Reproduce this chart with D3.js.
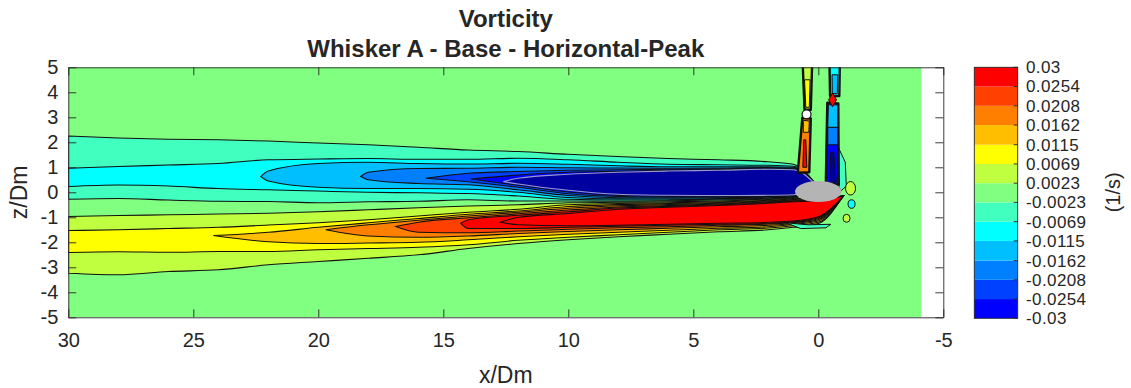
<!DOCTYPE html>
<html>
<head>
<meta charset="utf-8">
<script src="https://cdn.jsdelivr.net/npm/d3@7"></script>
<style>
body { margin: 0; background: #fff; }
svg text { font-family: "Liberation Sans", Arial, Helvetica, sans-serif; fill: #262626; }
</style>
</head>
<body>
<div id="canvas"></div>
<script>
"use strict"

/* Configuration: canvas and plot box */
let svgWidth = 1131;
let svgHeight = 388;
let plotLeft = 68.3;
let plotRight = 943.3;
let plotTop = 67.3;
let plotBottom = 317.3;

/* Stations along the wake (x/Dm) where the contour edges were read */
const xStations = [30, 28, 26, 24, 22, 20, 18, 16, 14, 12, 10, 8, 6, 4, 2, 1, 0, -1];
const fieldEndX = -4.12;

/* Negative vorticity (upper wake): region "below level" per level */
const negLevels = [-0.0023, -0.0069, -0.0115, -0.0162, -0.0208, -0.0254, -0.03];
const negTipX = [null, null, 22.3, 18.3, 15.7, 13.9, 12.6];
const negTipZ = [null, null, 0.63, 0.63, 0.56, 0.53, 0.43];
const negTop = [
    [2.25, 2.17, 2.12, 2.1, 2.05, 1.97, 1.9, 1.8, 1.69, 1.63, 1.52, 1.43, 1.35, 1.3, 1.22, 1.12, 0.2, null],
    [0.96, 1.03, 1.09, 1.15, 1.3, 1.33, 1.35, 1.32, 1.32, 1.36, 1.3, 1.2, 1.12, 1.1, 1.08, 1.04, 0.2, null],
    [null, null, null, null, 0.85, 1.15, 1.2, 1.15, 1.13, 1.16, 1.12, 1.06, 1.02, 1.02, 1.02, 1.0, 0.2, null],
    [null, null, null, null, null, null, 0.8, 0.95, 0.96, 1.0, 0.98, 0.97, 0.96, 0.97, 0.99, 0.97, 0.2, null],
    [null, null, null, null, null, null, null, null, 0.76, 0.83, 0.88, 0.9, 0.92, 0.94, 0.97, 0.94, 0.2, null],
    [null, null, null, null, null, null, null, null, null, 0.69, 0.8, 0.84, 0.88, 0.91, 0.945, 0.92, 0.2, null],
    [null, null, null, null, null, null, null, null, null, 0.56, 0.72, 0.8, 0.85, 0.88, 0.92, 0.9, 0.2, null]
];
const negBot = [
    [-0.28, -0.25, -0.31, -0.36, -0.37, -0.42, -0.38, -0.36, -0.3, -0.35, -0.35, -0.356, -0.34, -0.31, -0.27, -0.23, 0.2, null],
    [0.23, 0.29, 0.25, 0.15, 0.1, 0.05, 0.0, -0.02, -0.05, -0.15, -0.28, -0.31, -0.305, -0.28, -0.24, -0.21, 0.2, null],
    [null, null, null, null, 0.45, 0.2, 0.15, 0.15, 0.12, 0.0, -0.21, -0.264, -0.27, -0.25, -0.22, -0.186, 0.2, null],
    [null, null, null, null, null, null, 0.5, 0.35, 0.3, 0.1, -0.13, -0.22, -0.23, -0.22, -0.19, -0.165, 0.2, null],
    [null, null, null, null, null, null, null, null, 0.42, 0.2, -0.06, -0.17, -0.194, -0.19, -0.17, -0.14, 0.2, null],
    [null, null, null, null, null, null, null, null, null, 0.28, 0.01, -0.126, -0.157, -0.16, -0.145, -0.12, 0.2, null],
    [null, null, null, null, null, null, null, null, null, 0.33, 0.08, -0.08, -0.12, -0.13, -0.12, -0.1, 0.2, null]
];

/* Positive vorticity (lower wake): region "above level" per level */
const posLevels = [0.0023, 0.0069, 0.0115, 0.0162, 0.0208, 0.0254, 0.03];
const posTipX = [null, null, 24.2, 19.7, 16.9, 14.3, 12.7];
const posTipZ = [null, null, -1.73, -1.5, -1.37, -1.24, -1.2];
const posTop = [
    [-0.97, -0.93, -0.9, -0.87, -0.84, -0.78, -0.7, -0.62, -0.55, -0.5, -0.42, -0.4, -0.38, -0.35, -0.29, -0.25, -0.2, -0.15],
    [-1.53, -1.5, -1.45, -1.4, -1.31, -1.22, -1.1, -0.95, -0.8, -0.68, -0.5, -0.45, -0.415, -0.38, -0.32, -0.27, -0.22, -0.15],
    [null, null, null, null, -1.6, -1.4, -1.22, -1.05, -0.88, -0.75, -0.57, -0.494, -0.45, -0.41, -0.34, -0.29, -0.25, -0.15],
    [null, null, null, null, null, null, -1.3, -1.12, -0.95, -0.8, -0.64, -0.54, -0.49, -0.44, -0.37, -0.31, -0.27, -0.15],
    [null, null, null, null, null, null, null, -1.2, -1.02, -0.86, -0.71, -0.586, -0.53, -0.47, -0.39, -0.34, -0.29, -0.15],
    [null, null, null, null, null, null, null, null, -1.1, -0.92, -0.78, -0.63, -0.563, -0.5, -0.42, -0.36, -0.31, -0.15],
    [null, null, null, null, null, null, null, null, null, -1.0, -0.85, -0.68, -0.6, -0.53, -0.44, -0.38, -0.33, -0.15]
];
const posBot = [
    [-3.24, -3.3, -3.17, -3.1, -2.9, -2.77, -2.64, -2.5, -2.25, -2.05, -1.9, -1.78, -1.68, -1.58, -1.5, -1.4, -1.25, -0.15],
    [-2.41, -2.38, -2.4, -2.37, -2.37, -2.3, -2.25, -2.2, -2.1, -1.92, -1.8, -1.7, -1.6, -1.5, -1.43, -1.34, -1.2, -0.15],
    [null, null, null, null, -1.98, -2.05, -2.03, -2.0, -1.9, -1.78, -1.68, -1.6, -1.52, -1.44, -1.38, -1.29, -1.15, -0.15],
    [null, null, null, null, null, null, -1.75, -1.8, -1.75, -1.65, -1.57, -1.5, -1.44, -1.38, -1.32, -1.25, -1.1, -0.15],
    [null, null, null, null, null, null, null, -1.6, -1.62, -1.55, -1.48, -1.42, -1.38, -1.32, -1.27, -1.21, -1.06, -0.15],
    [null, null, null, null, null, null, null, null, -1.45, -1.45, -1.4, -1.36, -1.32, -1.28, -1.24, -1.18, -1.02, -0.15],
    [null, null, null, null, null, null, null, null, null, -1.3, -1.34, -1.32, -1.28, -1.24, -1.2, -1.15, -0.98, -0.15]
];

/* Whisker strips near x = 0: value and outline points [x, z] */
const whiskerShapes = [
    { v: -0.004, pts: [[-0.8, 1.8], [-1.08, 1.2], [-1.12, 0.25], [-0.9, 0.05], [-0.8, 0.3]] },
    { v: -0.004, pts: [[1.3, -1.22], [0.4, -1.3], [-0.5, -1.28], [-0.3, -1.42], [0.7, -1.45]] },
    { v: 0.0162, pts: [[0.82, 0.78], [0.36, 0.8], [0.3, 2.95], [0.64, 2.98]] },
    { v: 0.0115, pts: [[0.6, 2.4], [0.38, 2.4], [0.36, 2.85], [0.6, 2.88]] },
    { v: 0.031, pts: [[0.62, 1.0], [0.46, 1.0], [0.5, 2.1], [0.58, 2.1]] },
    { v: 0.003, pts: [[0.62, 5.05], [0.25, 5.05], [0.3, 3.3], [0.55, 3.3]] },
    { v: 0.008, pts: [[0.55, 4.5], [0.33, 4.5], [0.36, 3.4], [0.5, 3.4]] },
    { v: -0.028, pts: [[-0.3, 0.35], [-0.82, 0.3], [-0.8, 3.55], [-0.36, 3.58]] },
    { v: -0.019, pts: [[-0.38, 1.9], [-0.78, 1.9], [-0.78, 2.6], [-0.38, 2.6]] },
    { v: -0.014, pts: [[-0.38, 2.6], [-0.78, 2.6], [-0.78, 3.5], [-0.4, 3.5]] },
    { v: -0.035, pts: [[-0.45, 0.4], [-0.72, 0.4], [-0.62, 1.6], [-0.5, 1.6]] },
    { v: -0.009, pts: [[-0.45, 5.05], [-0.86, 5.05], [-0.84, 3.85], [-0.47, 3.85]] },
    { v: -0.014, pts: [[-0.55, 4.7], [-0.78, 4.7], [-0.76, 3.95], [-0.56, 3.95]] }
];

/* Small vortex blobs right of the whisker base */
const blobX = [-1.29, -1.33, -1.13];
const blobZ = [0.16, -0.47, -1.04];
const blobRx = [0.2, 0.14, 0.14];
const blobRz = [0.27, 0.17, 0.16];
const blobV = [0.004, -0.009, 0.004];

/* Whisker cross-section and markers */
const baseEllipse = { x: 0, z: 0.03, rx: 0.93, rz: 0.42 };
const whiteMarker = [0.47, 3.12];
const redMarker = [-0.57, 3.7];

/* Colour bar */
const barLevels = [-0.03, -0.0254, -0.0208, -0.0162, -0.0115, -0.0069, -0.0023, 0.0023, 0.0069, 0.0115, 0.0162, 0.0208, 0.0254, 0.03];
const barLabels = ["-0.03", "-0.0254", "-0.0208", "-0.0162", "-0.0115", "-0.0069", "-0.0023", "0.0023", "0.0069", "0.0115", "0.0162", "0.0208", "0.0254", "0.03"];
const bandColors = ["#0000ff", "#0040ff", "#0080ff", "#00bfff", "#00ffff", "#40ffbf", "#80ff80", "#bfff40", "#ffff00", "#ffbf00", "#ff8000", "#ff4000", "#ff0000"];

const xTicks = [30, 25, 20, 15, 10, 5, 0, -5];
const zTicks = [5, 4, 3, 2, 1, 0, -1, -2, -3, -4, -5];

/* Scales */
let xScale = d3.scaleLinear().domain([30, -5]).range([plotLeft, plotRight]);
let zScale = d3.scaleLinear().domain([-5, 5]).range([plotBottom, plotTop]);
let colorScale = d3.scaleThreshold()
    .domain(barLevels)
    .range(["#0000a0"].concat(bandColors, ["#ff0000"]));

function negFill(level) { return colorScale(level - 0.004); }
function posFill(level) { return colorScale(level); }

/* Canvas */
let svg = d3.select("#canvas")
    .append("svg")
    .attr("width", svgWidth)
    .attr("height", svgHeight);

svg.append("defs").append("clipPath")
    .attr("id", "plotClip")
    .append("rect")
    .attr("x", plotLeft)
    .attr("y", plotTop)
    .attr("width", plotRight - plotLeft)
    .attr("height", plotBottom - plotTop);

let plot = svg.append("g").attr("clip-path", "url(#plotClip)");

/* Background field (light green = near-zero band) */
plot.append("rect")
    .attr("x", xScale(30))
    .attr("y", zScale(5))
    .attr("width", xScale(fieldEndX) - xScale(30))
    .attr("height", zScale(-5) - zScale(5))
    .attr("fill", colorScale(0));

/* Build region points from tip + stations */
function regionPoints(tipX, tipZ, top, bot) {
    let pts = [];
    if (tipX != null) pts.push({ x: tipX, top: tipZ, bot: tipZ });
    xStations.forEach(function (xv, i) {
        if (top[i] != null && (tipX == null || xv < tipX)) {
            pts.push({ x: xv, top: top[i], bot: bot[i] });
        }
    });
    return pts.sort(function (a, b) { return b.x - a.x; });
}

let area = d3.area()
    .x(function (d) { return xScale(d.x); })
    .y0(function (d) { return zScale(d.bot); })
    .y1(function (d) { return zScale(d.top); })
    .curve(d3.curveMonotoneX);

/* Negative wake, outer to inner */
for (let i = 0; i < negLevels.length; i++) {
    plot.append("path")
        .attr("d", area(regionPoints(negTipX[i], negTipZ[i], negTop[i], negBot[i])))
        .attr("fill", negFill(negLevels[i]))
        .attr("stroke", i == negLevels.length - 1 ? "#9a9ac8" : "#111")
        .attr("stroke-width", 1.1);
}

/* Positive wake, outer to inner */
for (let i = 0; i < posLevels.length; i++) {
    plot.append("path")
        .attr("d", area(regionPoints(posTipX[i], posTipZ[i], posTop[i], posBot[i])))
        .attr("fill", posFill(posLevels[i]))
        .attr("stroke", "#111")
        .attr("stroke-width", 1.1);
}

/* Whisker strips */
let line = d3.line()
    .x(function (d) { return xScale(d[0]); })
    .y(function (d) { return zScale(d[1]); });

whiskerShapes.forEach(function (s) {
    let outer = (s.v == 0.0162 || s.v == -0.028 || s.v == 0.003 || s.v == -0.009);
    plot.append("path")
        .attr("d", line(s.pts) + "Z")
        .attr("fill", colorScale(s.v))
        .attr("stroke", "#111")
        .attr("stroke-width", outer ? 2.4 : 1)
        .attr("stroke-linejoin", "round");
});

/* Blobs */
for (let i = 0; i < blobX.length; i++) {
    plot.append("ellipse")
        .attr("cx", xScale(blobX[i]))
        .attr("cy", zScale(blobZ[i]))
        .attr("rx", xScale(0) - xScale(blobRx[i]))
        .attr("ry", zScale(0) - zScale(blobRz[i]))
        .attr("fill", colorScale(blobV[i]))
        .attr("stroke", "#111")
        .attr("stroke-width", 1);
}

/* Whisker base (grey ellipse) */
plot.append("ellipse")
    .attr("cx", xScale(baseEllipse.x))
    .attr("cy", zScale(baseEllipse.z))
    .attr("rx", xScale(0) - xScale(baseEllipse.rx))
    .attr("ry", zScale(0) - zScale(baseEllipse.rz))
    .attr("fill", "#b4b4b4");

/* Markers */
plot.append("circle")
    .attr("cx", xScale(whiteMarker[0]))
    .attr("cy", zScale(whiteMarker[1]))
    .attr("r", 4.5)
    .attr("fill", "#fff")
    .attr("stroke", "#111")
    .attr("stroke-width", 1.2);

plot.append("path")
    .attr("d", d3.symbol(d3.symbolDiamond, 55)())
    .attr("transform", "translate(" + xScale(redMarker[0]) + "," + zScale(redMarker[1]) + ")")
    .attr("fill", "#ff0000")
    .attr("stroke", "#111")
    .attr("stroke-width", 1);

/* Axes: ticks inside, box all round */
function styleAxis(g) {
    g.selectAll("path.domain").attr("stroke", "#262626").attr("stroke-width", 0.9);
    g.selectAll(".tick line").attr("stroke", "#262626").attr("stroke-width", 0.9);
    g.selectAll(".tick text")
        .attr("fill", "#262626")
        .style("font-family", "'Liberation Sans', Arial, Helvetica, sans-serif")
        .style("font-size", "20px");
}

svg.append("g")
    .attr("transform", "translate(0," + plotBottom + ")")
    .call(d3.axisBottom(xScale).tickValues(xTicks).tickSizeInner(-8).tickSizeOuter(0)
        .tickPadding(16).tickFormat(function (d) { return String(d); }))
    .call(styleAxis);

svg.append("g")
    .attr("transform", "translate(0," + plotTop + ")")
    .call(d3.axisTop(xScale).tickValues(xTicks).tickSizeInner(-8).tickSizeOuter(0).tickFormat(""))
    .call(styleAxis);

svg.append("g")
    .attr("transform", "translate(" + plotLeft + ",0)")
    .call(d3.axisLeft(zScale).tickValues(zTicks).tickSizeInner(-8).tickSizeOuter(0)
        .tickPadding(10).tickFormat(function (d) { return String(d); }))
    .call(styleAxis);

svg.append("g")
    .attr("transform", "translate(" + plotRight + ",0)")
    .call(d3.axisRight(zScale).tickValues(zTicks).tickSizeInner(-8).tickSizeOuter(0).tickFormat(""))
    .call(styleAxis);

/* Titles and axis labels */
let midX = (plotLeft + plotRight) / 2;
svg.append("text")
    .attr("x", midX).attr("y", 27)
    .attr("text-anchor", "middle")
    .style("font-size", "24px").style("font-weight", "bold")
    .text("Vorticity");
svg.append("text")
    .attr("x", midX).attr("y", 57)
    .attr("text-anchor", "middle")
    .style("font-size", "24px").style("font-weight", "bold")
    .text("Whisker A - Base - Horizontal-Peak");
svg.append("text")
    .attr("x", midX).attr("y", 383)
    .attr("text-anchor", "middle")
    .style("font-size", "23px")
    .text("x/Dm");
svg.append("text")
    .attr("transform", "translate(27," + zScale(0) + ") rotate(-90)")
    .attr("text-anchor", "middle")
    .style("font-size", "23px")
    .text("z/Dm");

/* Colour bar */
let barLeft = 974.3;
let barWidth = 43.4;
let barScale = d3.scaleLinear().domain([-0.03, 0.03]).range([318.3, 67.3]);

for (let i = 0; i < bandColors.length; i++) {
    svg.append("rect")
        .attr("x", barLeft)
        .attr("y", barScale(barLevels[i + 1]))
        .attr("width", barWidth)
        .attr("height", barScale(barLevels[i]) - barScale(barLevels[i + 1]))
        .attr("fill", bandColors[i]);
}
svg.append("rect")
    .attr("x", barLeft)
    .attr("y", barScale(0.03))
    .attr("width", barWidth)
    .attr("height", barScale(-0.03) - barScale(0.03))
    .attr("fill", "none")
    .attr("stroke", "#262626")
    .attr("stroke-width", 0.9);

for (let i = 0; i < barLevels.length; i++) {
    svg.append("line")
        .attr("x1", barLeft + barWidth - 4)
        .attr("x2", barLeft + barWidth)
        .attr("y1", barScale(barLevels[i]))
        .attr("y2", barScale(barLevels[i]))
        .attr("stroke", "#262626")
        .attr("stroke-width", 0.9);
    svg.append("text")
        .attr("x", 1026)
        .attr("y", barScale(barLevels[i]))
        .attr("dy", "0.35em")
        .style("font-size", "17px")
        .style("letter-spacing", "0.4px")
        .text(barLabels[i]);
}

svg.append("text")
    .attr("transform", "translate(1120," + zScale(0) + ") rotate(-90)")
    .attr("text-anchor", "middle")
    .style("font-size", "20px")
    .text("(1/s)");
</script>
</body>
</html>
